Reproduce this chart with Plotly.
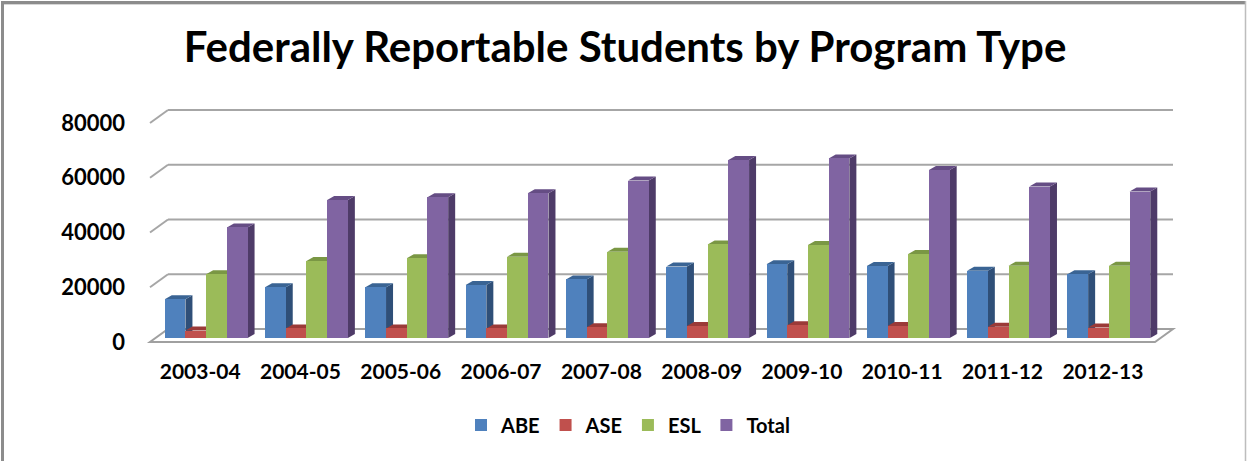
import plotly.graph_objects as go

categories = ["2003-04", "2004-05", "2005-06", "2006-07", "2007-08",
              "2008-09", "2009-10", "2010-11", "2011-12", "2012-13"]
abe = [14200, 18500, 18500, 19400, 21400, 26100, 26900, 26300, 24600, 23300]
ase = [2700, 3500, 3500, 3500, 3900, 4400, 4700, 4400, 4100, 3800]
esl = [23300, 28100, 29100, 29700, 31500, 34200, 34000, 30700, 26400, 26400]
total = [40400, 50400, 51400, 52900, 57500, 65000, 65600, 61400, 55300, 53500]
y_ticks = [0, 20000, 40000, 60000, 80000]

series = [
    ("ABE", abe, "#4F81BD", "#3A6494", "#2F4F78"),
    ("ASE", ase, "#C0504D", "#9B3A38", "#7E2E2C"),
    ("ESL", esl, "#9BBB59", "#7A9744", "#617A35"),
    ("Total", total, "#8064A2", "#654D84", "#4E3B68"),
]

W, H = 1247, 461
L, R, T, B = 156, 88, 100, 116
PW, PH = W - L - R, H - T - B
PX_PER_UNIT = PW / 10.0          # category units
PX_PER_20K = 54.75

def xp(px):
    return (px - L) / PW

def yp(py):
    return (H - B - py) / PH

def yrange(zero_px):
    bottom = (zero_px - (H - B)) / PX_PER_20K * 20000
    top = (zero_px - T) / PX_PER_20K * 20000
    return [bottom, top]

BAR_ZERO = 338
GRID_ZERO = 329
LABEL_ZERO = 342

n = len(series)
group_w = 0.826
bw = group_w / n
dx = 7 / PX_PER_UNIT
dy = 4 / PX_PER_20K * 20000

fig = go.Figure()
shapes = []

# outer frame
shapes.append(dict(type="line", xref="paper", yref="paper", x0=xp(1), x1=xp(1246),
                   y0=yp(2.5), y1=yp(2.5), line=dict(color="#8C8C8C", width=3), layer="above"))
shapes.append(dict(type="line", xref="paper", yref="paper", x0=xp(1), x1=xp(1246),
                   y0=yp(4.5), y1=yp(4.5), line=dict(color="#D6D6D6", width=1), layer="above"))
shapes.append(dict(type="line", xref="paper", yref="paper", x0=xp(2.5), x1=xp(2.5),
                   y0=yp(1), y1=yp(470), line=dict(color="#8C8C8C", width=3), layer="above"))
shapes.append(dict(type="line", xref="paper", yref="paper", x0=xp(1245.5), x1=xp(1245.5),
                   y0=yp(1), y1=yp(470), line=dict(color="#BDBDBD", width=1.5), layer="above"))

# back gridlines with diagonal stubs
for v in y_ticks:
    gy = GRID_ZERO - v / 20000 * PX_PER_20K
    fy = LABEL_ZERO - v / 20000 * PX_PER_20K
    if v != 0:
        shapes.append(dict(type="line", xref="paper", yref="paper", x0=xp(168), x1=xp(1173),
                           y0=yp(gy), y1=yp(gy), line=dict(color="#A6A6A6", width=2), layer="below"))
        shapes.append(dict(type="line", xref="paper", yref="paper", x0=xp(150), x1=xp(168),
                           y0=yp(fy), y1=yp(gy), line=dict(color="#A6A6A6", width=2), layer="below"))

# floor slab
floor = "M {a},{b} L {c},{b} L {d},{e} L {f},{e} Z".format(
    a=xp(150), b=yp(342), c=xp(1155), d=xp(1173), e=yp(329), f=xp(168))
shapes.append(dict(type="path", xref="paper", yref="paper", path=floor,
                   fillcolor="#FFFFFF", line=dict(color="#A0A0A0", width=2), layer="below"))

for k, (name, vals, front, top_c, side_c) in enumerate(series):
    offset = -group_w / 2 + k * bw
    fig.add_trace(go.Bar(
        name="<b>%s</b>" % name, x=list(range(len(categories))), y=vals,
        width=bw, offset=offset, marker=dict(color=front, line=dict(width=0)),
        yaxis="y", xaxis="x"))
    for i, v in enumerate(vals):
        x0 = i + offset
        x1 = x0 + bw
        side = f"M {x1},0 L {x1+dx},{dy} L {x1+dx},{v+dy} L {x1},{v} Z"
        top = f"M {x0},{v} L {x0+dx},{v+dy} L {x1+dx},{v+dy} L {x1},{v} Z"
        shapes.append(dict(type="path", xref="x", yref="y", path=side,
                           fillcolor=side_c, line=dict(width=0), layer="below"))
        shapes.append(dict(type="path", xref="x", yref="y", path=top,
                           fillcolor=top_c, line=dict(width=0), layer="below"))

# invisible trace to carry the label axes
fig.add_trace(go.Scatter(x=[0], y=[0], xaxis="x2", yaxis="y3", mode="markers",
                         marker=dict(opacity=0), showlegend=False, hoverinfo="skip"))

font_family = "Lato, 'Open Sans', sans-serif"
label_shift = 6 / PX_PER_UNIT

fig.update_layout(
    width=W, height=H,
    margin=dict(l=L, r=R, t=T, b=B, pad=0),
    paper_bgcolor="white", plot_bgcolor="rgba(0,0,0,0)",
    title=dict(text="<b>Federally Reportable Students by Program Type</b>",
               x=625 / W, xanchor="center", xref="container",
               y=1 - 47 / H, yanchor="middle", yref="container",
               font=dict(family=font_family, size=42, color="black")),
    showlegend=True,
    legend=dict(orientation="h", x=xp(628), xanchor="center", y=yp(425), yanchor="middle",
                font=dict(family=font_family, size=20, color="black"),
                bgcolor="rgba(0,0,0,0)", traceorder="normal"),
    xaxis=dict(range=[-0.5, 9.5], showgrid=False, zeroline=False, showticklabels=False,
               showline=False, ticks=""),
    xaxis2=dict(range=[-0.5 + label_shift, 9.5 + label_shift], overlaying="x",
                tickmode="array", tickvals=list(range(len(categories))),
                ticktext=["<b>%s</b>" % c for c in categories],
                showgrid=False, zeroline=False, showline=False, ticks="", side="bottom",
                ticklabelstandoff=12,
                tickfont=dict(family=font_family, size=21, color="black")),
    yaxis=dict(range=yrange(BAR_ZERO), showgrid=False, zeroline=False,
               showticklabels=False, showline=False, ticks=""),
    yaxis3=dict(range=yrange(LABEL_ZERO), overlaying="y", side="left",
                tickmode="array", tickvals=y_ticks,
                ticktext=["<b>%d</b>" % v for v in y_ticks],
                showgrid=False, zeroline=False, showline=False, ticks="",
                ticklabelstandoff=30,
                tickfont=dict(family=font_family, size=22, color="black")),
    shapes=shapes,
    bargap=0, barmode="overlay",
)

fig.write_html("out.html")
